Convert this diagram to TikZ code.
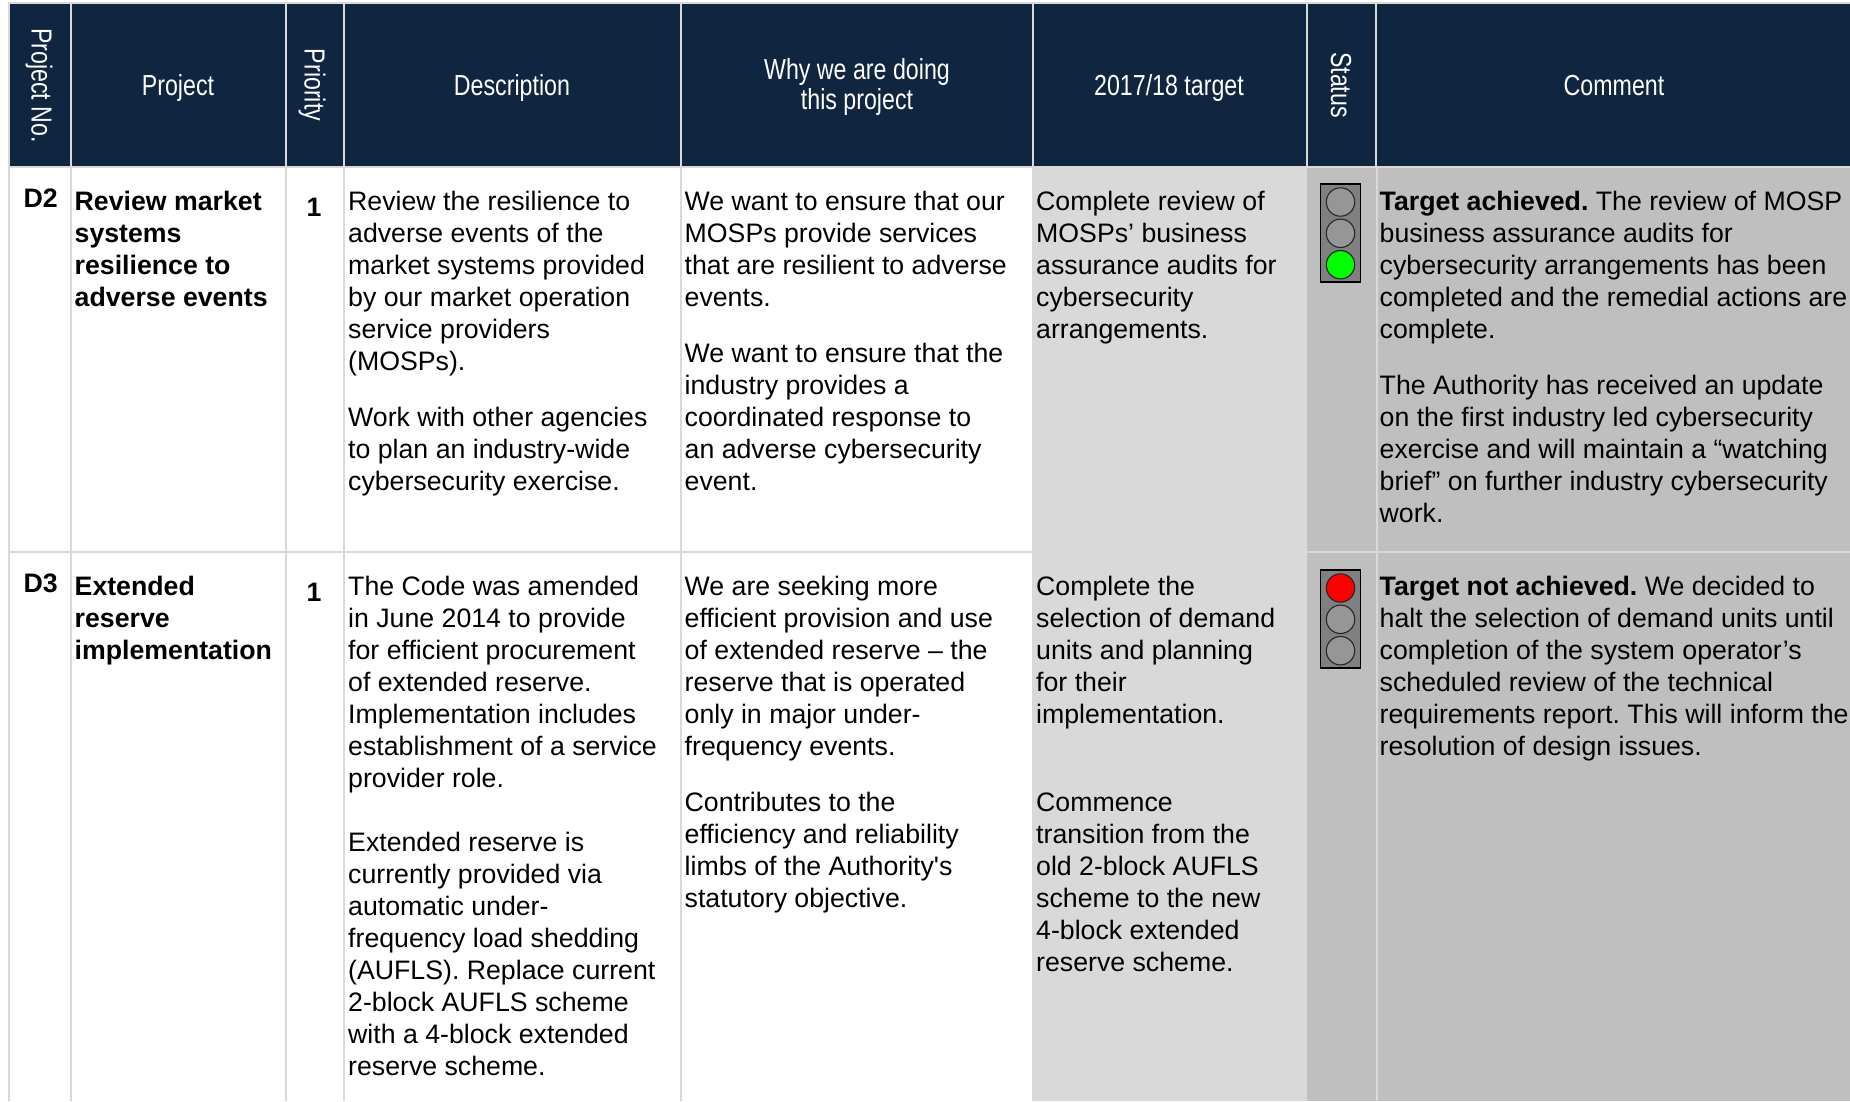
\documentclass[tikz,border=0pt]{standalone}
\usepackage{fontspec}
\setmainfont{Liberation Sans}
\newfontfamily\narrowf[FakeStretch=0.8]{Liberation Sans}
\newfontfamily\plainf{Liberation Sans}
\definecolor{hdr}{HTML}{10253F}
\definecolor{grid}{HTML}{D9D9D9}
\definecolor{tgt}{HTML}{D9D9D9}
\definecolor{stat}{HTML}{BFBFBF}
\definecolor{lamp}{HTML}{969696}
\newcommand{\fs}{\rule{0pt}{20pt}}
\tikzset{
  htext/.style={text=white,font=\narrowf\fontsize{29}{29.5}\selectfont,align=center,inner sep=0pt},
  hbase/.style={htext,anchor=base},
  btext/.style={anchor=north west,inner sep=0pt,align=left,font=\frenchspacing\fontsize{26.7}{31.9}\selectfont},
  boldt/.style={btext,font=\frenchspacing\bfseries\fontsize{26.7}{31.9}\selectfont},
  gridline/.style={draw=grid,line width=2pt},
  housing/.style={fill=gray,draw=black,line width=1.6pt},
  bulb/.style={draw=black!85,line width=1.1pt}
}
\newcommand{\tlight}[4]{%
  \draw[housing] (1320.5,#1) rectangle (1360.5,#1+98);
  \draw[bulb,fill=#2] (1340.5,#1+18) circle (14.2pt);
  \draw[bulb,fill=#3] (1340.5,#1+49.3) circle (14.2pt);
  \draw[bulb,fill=#4] (1340.5,#1+80.7) circle (14.2pt);
}
\begin{document}
\begin{tikzpicture}[x=1pt,y=-1pt]
\useasboundingbox (0,0) rectangle (1850,1101);
\clip (0,0) rectangle (1850,1101);
% body fills
\fill[tgt] (1032,167) rectangle (1307,1101);
\fill[stat] (1307,167) rectangle (1850,1101);
% header
\fill[grid] (8,2) rectangle (1850,4);
\fill[hdr] (9,4) rectangle (1850,166);
% grid
\foreach \xx in {70.5,286,344,681,1032.5,1306.5,1376}
  \draw[gridline] (\xx,4) -- (\xx,166);
\draw[gridline] (8.5,2) -- (8.5,1101);
\foreach \xx in {70.5,286,344,681}
  \draw[gridline] (\xx,166) -- (\xx,1101);
\draw[gridline] (1376.5,166) -- (1376.5,1101);
\draw[gridline] (8,166.5) -- (1850,166.5);
\draw[gridline] (8,552) -- (1032,552);
\draw[gridline] (1307,552) -- (1850,552);
% header texts
\node[htext,rotate=-90] (hno) at (39,85.5) {Project No.};
\node[hbase] (hproj) at (178,95) {Project};
\node[htext,rotate=-90] (hpri) at (312,85) {Priority};
\node[hbase] (hdesc) at (512,95) {Description};
\node[htext,font=\narrowf\fontsize{29}{30.5}\selectfont] (hwhy) at (857,87) {Why we are doing\\this project};
\node[hbase] (htgt) at (1169,95) {2017/18 target};
\node[htext,rotate=-90] (hst) at (1341,85) {Status};
\node[hbase] (hcom) at (1614,95) {Comment};
% row 1
\node[boldt] (d2) at (23.5,187) {\fs D2};
\node[boldt] (p2) at (74.5,190.5) {\fs Review market\\systems\\resilience to\\adverse events};
\node[boldt,anchor=north] (r2) at (314,196) {\fs 1};
\node[btext] (d2a) at (348,190.5) {\fs Review the resilience to\\adverse events of the\\market systems provided\\by our market operation\\service providers\\(MOSPs).};
\node[btext] (d2b) at (348,406.5) {\fs Work with other agencies\\to plan an industry-wide\\cybersecurity exercise.};
\node[btext] (w2a) at (684.5,190.5) {\fs We want to ensure that our\\MOSPs provide services\\that are resilient to adverse\\events.};
\node[btext] (w2b) at (684.5,342.5) {\fs We want to ensure that the\\industry provides a\\coordinated response to\\an adverse cybersecurity\\event.};
\node[btext] (t2) at (1036,190.5) {\fs Complete review of\\MOSPs’ business\\assurance audits for\\cybersecurity\\arrangements.};
\node[btext] (c2a) at (1379.5,190.5) {\fs \textbf{Target achieved.} The review of MOSP\\business assurance audits for\\cybersecurity arrangements has been\\completed and the remedial actions are\\complete.};
\node[btext] (c2b) at (1379.5,374.5) {\fs The Authority has received an update\\on the first industry led cybersecurity\\exercise and will maintain a “watching\\brief” on further industry cybersecurity\\work.};
\tlight{184}{lamp}{lamp}{green}
% row 2
\node[boldt] (d3) at (23.5,572.5) {\fs D3};
\node[boldt] (p3) at (74.5,575.5) {\fs Extended\\reserve\\implementation};
\node[boldt,anchor=north] (r3) at (314,581) {\fs 1};
\node[btext] (d3a) at (348,575.5) {\fs The Code was amended\\in June 2014 to provide\\for efficient procurement\\of extended reserve.\\Implementation includes\\establishment of a service\\provider role.};
\node[btext] (d3b) at (348,831.5) {\fs Extended reserve is\\currently provided via\\automatic under-\\frequency load shedding\\(AUFLS). Replace current\\2-block AUFLS scheme\\with a 4-block extended\\reserve scheme.};
\node[btext] (w3a) at (684.5,575.5) {\fs We are seeking more\\efficient provision and use\\of extended reserve – the\\reserve that is operated\\only in major under-\\frequency events.};
\node[btext] (w3b) at (684.5,791.5) {\fs Contributes to the\\efficiency and reliability\\limbs of the Authority{\plainf\symbol{39}}s\\statutory objective.};
\node[btext] (t3a) at (1036,575.5) {\fs Complete the\\selection of demand\\units and planning\\for their\\implementation.};
\node[btext] (t3b) at (1036,791.5) {\fs Commence\\transition from the\\old 2-block AUFLS\\scheme to the new\\4-block extended\\reserve scheme.};
\node[btext] (c3) at (1379.5,575.5) {\fs \textbf{Target not achieved.} We decided to\\halt the selection of demand units until\\completion of the system operator’s\\scheduled review of the technical\\requirements report. This will inform the\\resolution of design issues.};
\tlight{570}{red}{lamp}{lamp}
\end{tikzpicture}
\end{document}
